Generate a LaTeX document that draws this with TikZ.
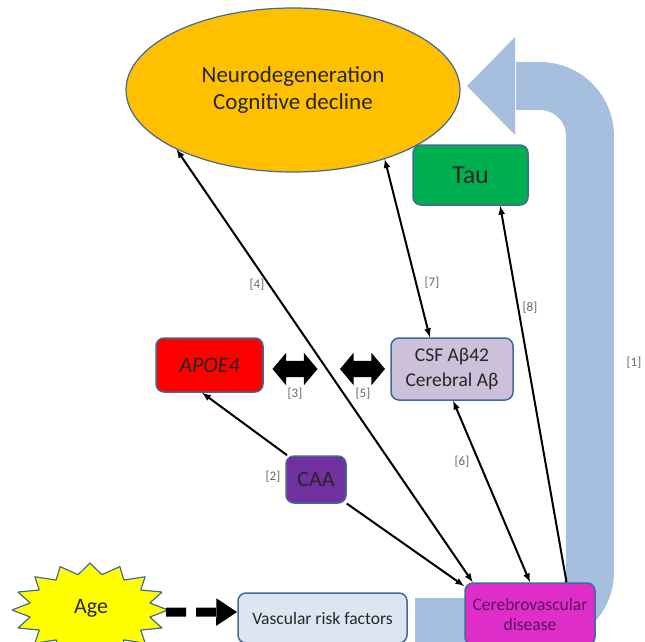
\documentclass[tikz,border=0pt]{standalone}
\usepackage{fontspec}
\setmainfont{Carlito}
\usetikzlibrary{shapes.geometric,shapes.arrows,arrows.meta}

\definecolor{bandblue}{RGB}{167,191,222}
\definecolor{edgeblue}{RGB}{65,105,155}
\definecolor{neurogold}{RGB}{255,192,0}
\definecolor{taugreen}{RGB}{0,176,80}
\definecolor{csflilac}{RGB}{204,192,218}
\definecolor{caapurple}{RGB}{112,48,160}
\definecolor{cvdmagenta}{RGB}{222,45,200}
\definecolor{cvdtext}{RGB}{90,20,95}
\definecolor{vrfblue}{RGB}{220,230,242}
\definecolor{ageyellow}{RGB}{255,255,0}

\begin{document}
\begin{tikzpicture}[x=1pt,y=-1pt,>=latex,line join=bevel,
    box/.style={draw=edgeblue,line width=1.5pt,rounded corners=8pt,inner sep=0pt,text=black!85},
    dbl/.style={double arrow,fill=black,inner xsep=0pt,inner ysep=8pt,minimum height=45pt,
      double arrow head extend=8pt,double arrow tip angle=100},
    lbl/.style={text=black!60,font=\fontsize{13}{15}\selectfont},
    link/.style={line width=2pt}]
    \useasboundingbox (0,0) rectangle (645,642);
    %% feedback arrow [1]
    \draw [bandblue,line width=48pt,rounded corners=50pt] (415,622) -- (590,622) -- (590,86) -- (516,86);
    \fill [bandblue] (467,86) -- (515,37) -- (515,135) -- cycle;
    %% age
    \draw [draw=edgeblue,line width=1.2pt,fill=ageyellow]
      (168,610) \foreach \k in {1,...,31} {
        -- ({90+ifthenelse(mod(\k,2)==0,78,61)*cos(11.25*\k)},{610+ifthenelse(mod(\k,2)==0,47,36)*sin(11.25*\k)})
      } -- cycle;
    \node (age) at (91,608) [text=black!85,font=\fontsize{22}{26}\selectfont] {Age};
    \coordinate (agetip) at (166,612);
    %%
    \node (neuro) at (293,90) [ellipse,draw=edgeblue,line width=1.2pt,fill=neurogold,minimum width=334pt,minimum height=164pt,
      align=center,text=black!85,font=\fontsize{23}{27}\selectfont] {Neurodegeneration\\Cognitive decline};
    \node (tau) at (470.5,175) [box,fill=taugreen,minimum width=115pt,minimum height=60pt,font=\fontsize{26}{30}\selectfont] {Tau};
    \node (csf) at (452,369) [box,fill=csflilac,minimum width=122pt,minimum height=62pt,align=center,font=\fontsize{19.5}{25}\selectfont] {CSF Aβ42\\Cerebral Aβ};
    \node (apoe) at (209.5,365) [box,fill=red,minimum width=107pt,minimum height=54pt,font=\itshape\fontsize{22}{26}\selectfont] {APOE4};
    \node (caa) at (316,479.5) [box,fill=caapurple,minimum width=60pt,minimum height=47pt,font=\fontsize{22}{26}\selectfont] {CAA};
    \node (cvd) at (530,614) [box,fill=cvdmagenta,minimum width=130pt,minimum height=62pt,align=center,text=cvdtext,font=\fontsize{17.5}{20}\selectfont] {Cerebrovascular\\disease};
    \node (vrf) at (322.5,618) [box,fill=vrfblue,minimum width=169pt,minimum height=50pt,font=\fontsize{17.5}{20}\selectfont] {Vascular risk factors};
    \node (dbl3) at (295,369) [dbl] {};
    \node (dbl5) at (362.5,369) [dbl] {};
    %%
    \draw [line width=9pt,dash pattern=on 20pt off 10pt,-{Triangle[length=21pt,width=26pt]}] (agetip) -- (vrf.176);
    \draw [link,<->] (neuro.207) -- (cvd.151);
    \draw [link,<->] (neuro.-37) -- (csf.125);
    \draw [link,<-] (tau.-46.5) -- (cvd.41.5);
    \draw [link,<->] (csf.-88) -- (cvd.90);
    \draw [link,<-] (apoe.-105) -- (caa.140);
    \draw [link,->] (caa.-38) -- (cvd.157);
    %%
    \node (l1) at (634,363) [lbl] {[1]};
    \node (l2) at (273,477) [lbl] {[2]};
    \node (l3) at (295,394) [lbl] {[3]};
    \node (l4) at (257,285) [lbl] {[4]};
    \node (l5) at (363,394) [lbl] {[5]};
    \node (l6) at (462,462) [lbl] {[6]};
    \node (l7) at (432,283) [lbl] {[7]};
    \node (l8) at (530,308) [lbl] {[8]};
    %
\end{tikzpicture}
\end{document}
